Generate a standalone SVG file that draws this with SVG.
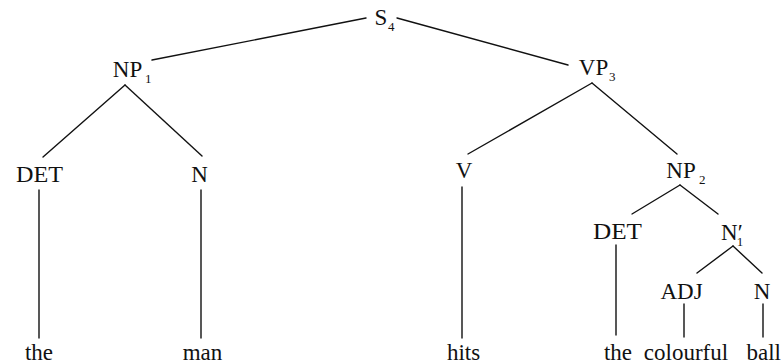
<svg xmlns="http://www.w3.org/2000/svg" width="782" height="364" viewBox="0 0 782 364">
<style>
text{font-family:'Liberation Serif','DejaVu Serif','Times New Roman',serif;fill:#111}
.lbl{font-size:23px;text-anchor:middle}
.sub{font-size:13px;text-anchor:start}
.word{font-size:23px;text-anchor:middle}
.edge{stroke:#111;stroke-width:1.4;fill:none;stroke-linecap:round}
</style>
<rect width="782" height="364" fill="#fff"/>
<g id="connectors">
<line class="edge" x1="366" y1="18" x2="152" y2="60"/>
<line class="edge" x1="397" y1="18" x2="568" y2="65"/>
<line class="edge" x1="125" y1="85" x2="43" y2="157"/>
<line class="edge" x1="125" y1="85" x2="202" y2="156"/>
<line class="edge" x1="592" y1="83" x2="468" y2="154"/>
<line class="edge" x1="592" y1="83" x2="677" y2="154"/>
<line class="edge" x1="680" y1="185" x2="632" y2="214"/>
<line class="edge" x1="680" y1="185" x2="718" y2="214"/>
<line class="edge" x1="733" y1="246" x2="697" y2="273"/>
<line class="edge" x1="733" y1="246" x2="762" y2="273"/>
<line class="edge" x1="39" y1="190" x2="39" y2="338"/>
<line class="edge" x1="201" y1="190" x2="201" y2="338"/>
<line class="edge" x1="462" y1="187" x2="462" y2="338"/>
<line class="edge" x1="616" y1="245" x2="616" y2="335"/>
<line class="edge" x1="684" y1="304" x2="684" y2="337"/>
<line class="edge" x1="763" y1="304" x2="763" y2="337"/>
</g>
<g id="S4"><text class="lbl" x="381" y="25">S</text><text class="sub" x="388" y="31">4</text></g>
<g id="NP1"><text class="lbl" x="127.5" y="77">NP</text><text class="sub" x="145" y="83">1</text></g>
<g id="VP3"><text class="lbl" x="593.5" y="75">VP</text><text class="sub" x="609" y="81">3</text></g>
<g id="DET1"><text class="lbl" x="39.5" y="182" textLength="47" lengthAdjust="spacingAndGlyphs">DET</text></g>
<g id="N1"><text class="lbl" x="199.5" y="182">N</text></g>
<g id="V"><text class="lbl" x="464" y="178">V</text></g>
<g id="NP2"><text class="lbl" x="681" y="178">NP</text><text class="sub" x="699" y="184">2</text></g>
<g id="DET2"><text class="lbl" x="617.5" y="238.5" textLength="49" lengthAdjust="spacingAndGlyphs">DET</text></g>
<g id="N1bar"><text class="lbl" x="721" y="240" style="text-anchor:start">N<tspan>′</tspan><tspan dx="-6" dy="6" style="font-size:13px">1</tspan></text></g>
<g id="ADJ"><text class="lbl" x="681.5" y="299">ADJ</text></g>
<g id="N2"><text class="lbl" x="762" y="299">N</text></g>
<g id="words">
<text class="word" x="39" y="360">the</text>
<text class="word" x="202.5" y="360">man</text>
<text class="word" x="463.5" y="360">hits</text>
<text class="word" x="618" y="360">the</text>
<text class="word" x="686" y="360">colourful</text>
<text class="word" x="781" y="360" style="text-anchor:end">ball</text>
</g>
</svg>
